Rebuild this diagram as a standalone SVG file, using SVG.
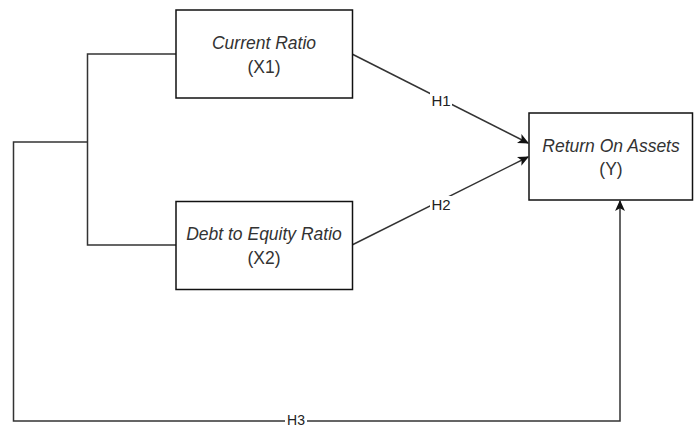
<svg xmlns="http://www.w3.org/2000/svg" width="694" height="428" viewBox="0 0 694 428">
  <defs>
    <marker id="arrow" viewBox="0 0 10 10" refX="9" refY="5" markerWidth="11" markerHeight="11" markerUnits="userSpaceOnUse" orient="auto">
      <path d="M0,0.5 L10,5 L0,9.5 L2.5,5 Z" fill="#111"/>
    </marker>
  </defs>
  <style>
    .box { fill: #ffffff; stroke: #111; stroke-width: 1.5; }
    .edge { fill: none; stroke: #333; stroke-width: 1.5; }
    .title { font-family: "Liberation Sans", Arial, sans-serif; font-size: 17.5px; font-style: italic; fill: #333; text-anchor: middle; }
    .sub { font-family: "Liberation Sans", Arial, sans-serif; font-size: 17.5px; fill: #333; text-anchor: middle; }
    .lbl { font-family: "Liberation Sans", Arial, sans-serif; font-size: 15px; fill: #222; text-anchor: middle; }
  </style>
  <rect width="694" height="428" fill="#ffffff"/>

  <g id="connectors">
    <!-- bracket joining X1 and X2 -->
    <polyline class="edge" points="176,54 87.5,54 87.5,245 176,245"/>
    <!-- H3: combined path to Y -->
    <polyline class="edge" points="87.5,142 13.5,142 13.5,421 620,421 620,201" marker-end="url(#arrow)"/>
    <!-- H1 -->
    <line class="edge" x1="352" y1="54" x2="528" y2="143" marker-end="url(#arrow)"/>
    <!-- H2 -->
    <line class="edge" x1="352" y1="245" x2="528" y2="157" marker-end="url(#arrow)"/>
    <rect x="430" y="92" width="22" height="17" fill="#ffffff"/>
    <text class="lbl" x="441" y="106">H1</text>
    <rect x="430" y="196" width="22" height="17" fill="#ffffff"/>
    <text class="lbl" x="441" y="210">H2</text>
    <rect x="285" y="413" width="22" height="15" fill="#ffffff"/>
    <text class="lbl" x="296" y="424.5" style="font-size:14px">H3</text>
  </g>

  <g id="node-x1">
    <rect class="box" x="176" y="10" width="176.5" height="88"/>
    <text class="title" x="264" y="49">Current Ratio</text>
    <text class="sub" x="264" y="73">(X1)</text>
  </g>

  <g id="node-x2">
    <rect class="box" x="176" y="201.5" width="176.5" height="88"/>
    <text class="title" x="264" y="240">Debt to Equity Ratio</text>
    <text class="sub" x="264" y="264">(X2)</text>
  </g>

  <g id="node-y">
    <rect class="box" x="529" y="113" width="163.5" height="87"/>
    <text class="title" x="611" y="152">Return On Assets</text>
    <text class="sub" x="611" y="175">(Y)</text>
  </g>
</svg>
